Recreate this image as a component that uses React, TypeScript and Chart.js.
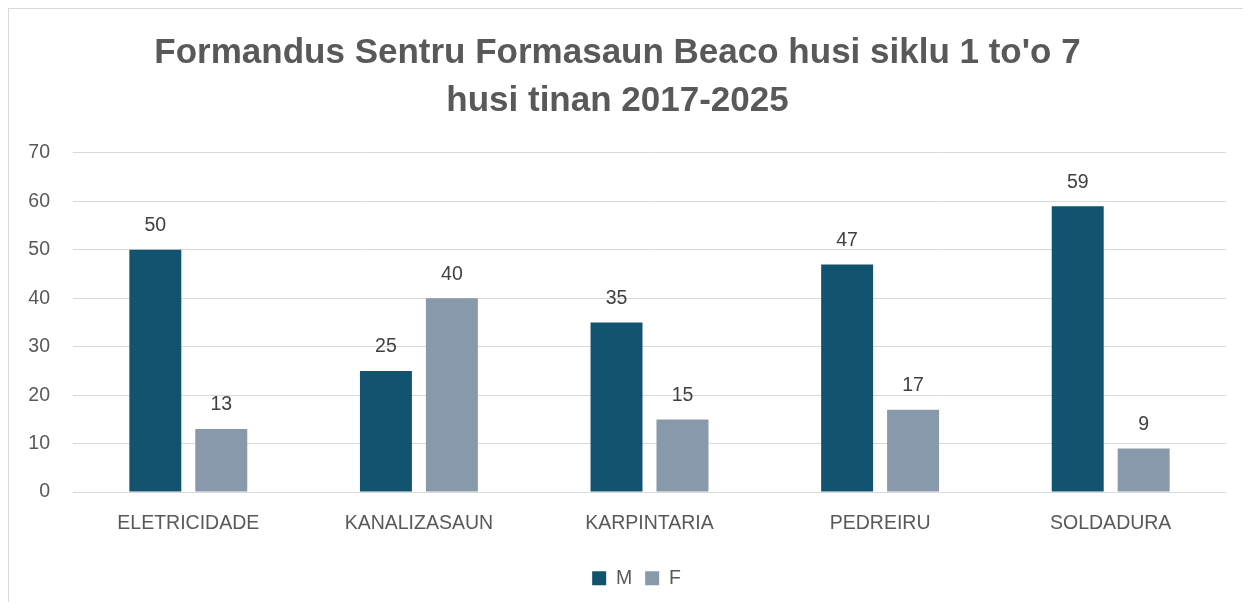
import React, { useEffect, useRef } from "react";
import { Chart, registerables } from "chart.js";

Chart.register(...registerables);

const categories = ["ELETRICIDADE", "KANALIZASAUN", "KARPINTARIA", "PEDREIRU", "SOLDADURA"];
const maleValues = [50, 25, 35, 47, 59];
const femaleValues = [13, 40, 15, 17, 9];
const titleLines = ["Formandus Sentru Formasaun Beaco husi siklu 1 to'o 7", "husi tinan 2017-2025"];

const FONT = "'Liberation Sans', Arial, sans-serif";

const valueLabels = {
  id: "valueLabels",
  afterDatasetsDraw(chart: any) {
    const ctx = chart.ctx;
    ctx.save();
    ctx.font = `19.5px ${FONT}`;
    ctx.fillStyle = "#404040";
    ctx.textAlign = "center";
    ctx.textBaseline = "middle";
    chart.data.datasets.forEach((ds: any, i: number) => {
      const meta = chart.getDatasetMeta(i);
      meta.data.forEach((bar: any, j: number) => {
        ctx.fillText(String(ds.data[j]), bar.x, bar.y - 24);
      });
    });
    ctx.restore();
  },
};

const legendShift = {
  id: "legendShift",
  afterLayout(chart: any) {
    if (chart.legend) {
      chart.legend.left += 19;
      chart.legend.right += 19;
    }
  },
};

export default function App() {
  const ref = useRef<HTMLCanvasElement>(null);
  useEffect(() => {
    if (!ref.current) return;
    const chart = new Chart(ref.current, {
      type: "bar",
      data: {
        labels: categories,
        datasets: [
          { label: "M", data: maleValues, backgroundColor: "#12536F", barPercentage: 0.788, categoryPercentage: 0.572 },
          { label: "F", data: femaleValues, backgroundColor: "#8799AA", barPercentage: 0.788, categoryPercentage: 0.572 },
        ],
      },
      options: {
        responsive: false,
        animation: false,
        layout: { padding: { left: 0, right: 17, top: 0, bottom: 3 } },
        plugins: {
          title: {
            display: true,
            text: titleLines,
            color: "#595959",
            font: { family: FONT, size: 35, weight: "bold", lineHeight: 1.371 },
            padding: { top: 20, bottom: 28 },
          },
          legend: {
            position: "bottom",
            labels: {
              color: "#595959",
              font: { family: FONT, size: 19.5 },
              boxWidth: 14,
              boxHeight: 14,
              padding: 13,
            },
          },
          tooltip: { enabled: false },
        },
        scales: {
          x: {
            grid: { display: false, drawTicks: false },
            border: { display: false },
            ticks: { color: "#595959", font: { family: FONT, size: 19.5 }, padding: 20, maxRotation: 0 },
          },
          y: {
            min: 0,
            max: 70,
            afterFit: (s: any) => { s.width = 64; },
            grid: { color: "#d9d9d9", drawTicks: false, lineWidth: 1 },
            border: { display: false },
            ticks: { stepSize: 10, color: "#595959", font: { family: FONT, size: 19.5 }, padding: 23 },
          },
        },
      },
      plugins: [valueLabels, legendShift],
    });
    return () => chart.destroy();
  }, []);
  return (
    <div style={{ width: 1235, height: 593, borderLeft: "1px solid #d9d9d9", borderTop: "1px solid #d9d9d9", background: "#fff" }}>
      <canvas ref={ref} width={1234} height={592} style={{ display: "block" }} />
    </div>
  );
}
